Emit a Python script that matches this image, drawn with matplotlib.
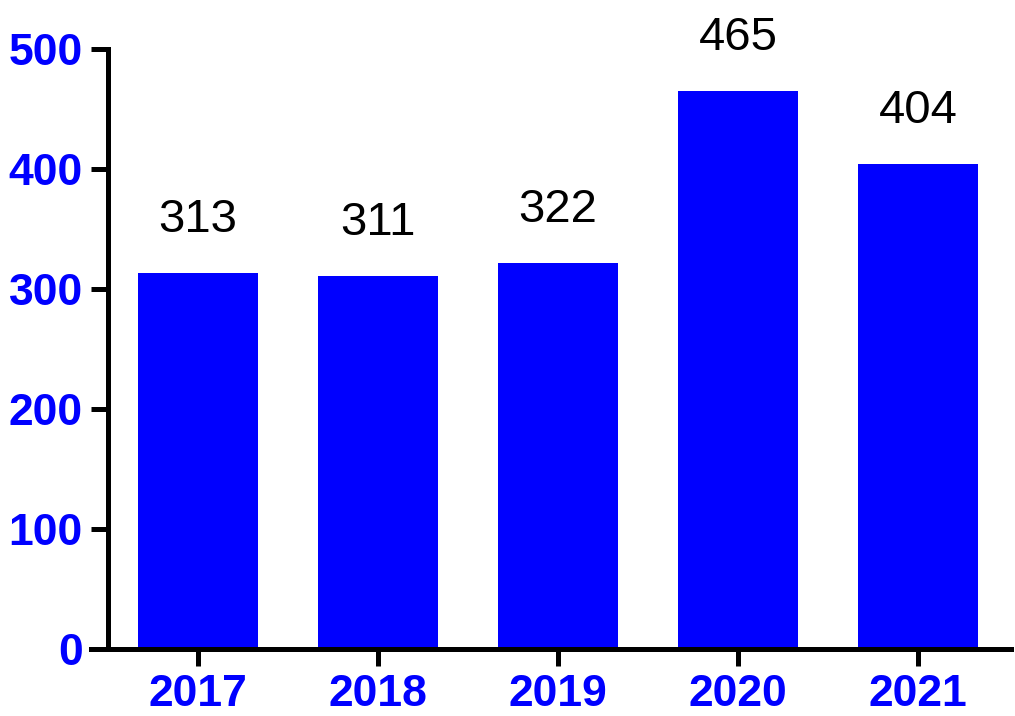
import matplotlib
matplotlib.use('Agg')
from matplotlib import pyplot as plt

years = ['2017', '2018', '2019', '2020', '2021']
counts = [313, 311, 322, 465, 404]
yticks = [0, 100, 200, 300, 400, 500]

plt.rcParams['font.family'] = ['Liberation Sans', 'DejaVu Sans']

fig = plt.figure(figsize=(10.15, 7.16), dpi=100)
ax = fig.add_axes([91 / 1015, 67 / 716, 920 / 1015, 600 / 716])

x = list(range(len(years)))
ax.bar(x, counts, width=0.667, color='#0000FF')

for xi, v in zip(x, counts):
    ax.annotate(str(v), (xi, v), xytext=(0, 29.5), textcoords='offset points',
                ha='center', va='baseline', fontsize=34, color='black')

ax.set_xlim(-0.594, 4.517)
ax.set_ylim(0, 500)
ax.set_xticks(x)
ax.set_xticklabels(years)
ax.set_yticks(yticks)

for s in ['top', 'right']:
    ax.spines[s].set_visible(False)
ax.spines['left'].set_position(('data', -0.5))
for s in ['left', 'bottom']:
    ax.spines[s].set_linewidth(3.6)

ax.tick_params(axis='both', length=12, width=3.6, labelsize=32,
               labelcolor='#0000FF')
ax.tick_params(axis='x', pad=6)
ax.tick_params(axis='y', pad=6)
for lab in ax.get_xticklabels() + ax.get_yticklabels():
    lab.set_fontweight('bold')

fig.savefig('out.png', dpi=100)
